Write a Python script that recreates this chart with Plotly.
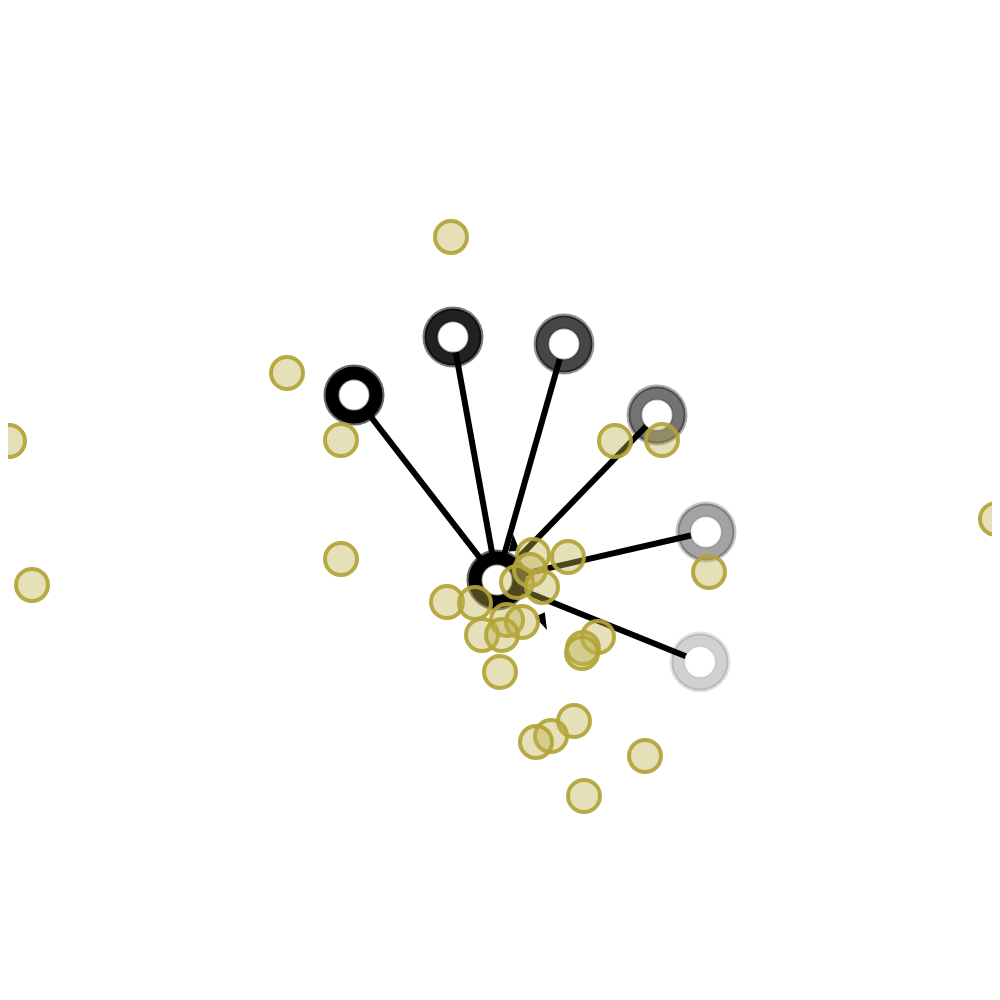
import plotly.graph_objects as go

# hub node and its linked nodes (screen-like coordinates, y grows downward)
hub_x = [497]
hub_y = [580]

sat_x = [354, 453, 564, 657, 706, 700]
sat_y = [395, 337, 344, 415, 532, 662]
sat_opacity = [1.0, 0.87, 0.72, 0.55, 0.36, 0.18]

# little arrow tips sticking out round the hub
tip_x = [513, 547]
tip_y = [534, 630]
tip_angle = [-4, 155]

# loose points
pts_x = [451, 287, 9, 341, 615, 662, 996, 341, 32, 709,
         533, 568, 530, 517, 542, 447, 475, 507, 522, 482,
         502, 598, 583, 582, 500, 574, 551, 536, 645, 584, 1012]
pts_y = [237, 373, 441, 440, 441, 440, 519, 559, 585, 572,
         555, 557, 570, 582, 587, 602, 603, 620, 622, 635,
         635, 637, 648, 653, 672, 721, 736, 742, 756, 796, 726]

fig = go.Figure()

# edges hub -> each linked node
for x, y in zip(sat_x, sat_y):
    fig.add_trace(go.Scatter(
        x=[hub_x[0], x], y=[hub_y[0], y],
        mode='lines',
        line=dict(color='black', width=6),
        hoverinfo='skip',
        showlegend=False
    ))

# rings: dark disc with a white hole on top
ring_x = hub_x + sat_x
ring_y = hub_y + sat_y
ring_op = [1.0] + sat_opacity
for x, y, op in zip(ring_x, ring_y, ring_op):
    fig.add_trace(go.Scatter(
        x=[x], y=[y], mode='markers',
        marker=dict(size=57, color='rgba(0,0,0,%.2f)' % op,
                    line=dict(color='rgba(0,0,0,%.2f)' % (op * 0.6), width=4)),
        hoverinfo='skip', showlegend=False
    ))
    fig.add_trace(go.Scatter(
        x=[x], y=[y], mode='markers',
        marker=dict(size=31, color='white',
                    line=dict(color='rgba(0,0,0,%.2f)' % (op * 0.4), width=2)),
        hoverinfo='skip', showlegend=False
    ))

fig.add_trace(go.Scatter(
    x=tip_x, y=tip_y, mode='markers',
    marker=dict(symbol='arrow', size=18, angle=tip_angle, color='black',
                line=dict(width=0)),
    hoverinfo='skip', showlegend=False
))

fig.add_trace(go.Scatter(
    x=pts_x, y=pts_y, mode='markers', cliponaxis=False,
    marker=dict(size=32, color='rgba(190,178,78,0.4)',
                line=dict(color='rgba(178,164,54,0.92)', width=4)),
    hoverinfo='skip', showlegend=False
))

# the page adds an 8px body margin, so shift the view to compensate
fig.update_layout(
    width=992, height=992,
    margin=dict(l=0, r=0, t=0, b=0),
    paper_bgcolor='white', plot_bgcolor='white',
    xaxis=dict(range=[8, 1000], visible=False),
    yaxis=dict(range=[1000, 8], visible=False),
)

fig.write_html("out.html")
